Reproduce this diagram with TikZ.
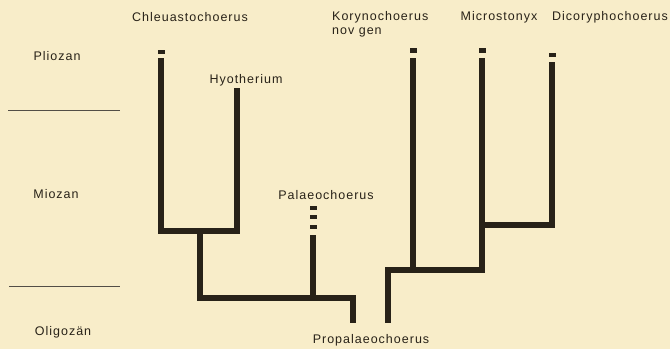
\documentclass[tikz,border=0pt]{standalone}
\usepackage{fontspec}
\setmainfont{Liberation Sans}[LetterSpace=8]
\usetikzlibrary{positioning}
\definecolor{paper}{RGB}{248,237,201}
\definecolor{ink}{RGB}{40,34,24}
\tikzset{
  branch/.style={draw=ink, line width=6.5pt, line cap=butt, line join=miter},
  tipmark/.style={fill=ink},
  taxon/.style={font=\fontsize{12.5}{15}\selectfont, text=ink, inner sep=0pt},
  epoch/.style={taxon},
  rule/.style={draw=ink!80, line width=0.9pt},
}

\begin{document}
\begin{tikzpicture}[x=1pt, y=-1pt]
  \fill[paper] (0,0) rectangle (670,349);
  \useasboundingbox (0,0) rectangle (670,349);
  % epochs
  \node[epoch] (plio) at (57,56) {Pliozan};
  \node[epoch] (mio) at (56,194) {Miozan};
  \node[epoch] (oligo) at (63,332) {Oligozän};
  \coordinate (r1a) at (8,110); \coordinate (r1b) at (120,110);
  \coordinate (r2a) at (9,286); \coordinate (r2b) at (120,286);
  \draw[rule] (r1a) -- (r1b);
  \draw[rule] (r2a) -- (r2b);
  % taxa
  \node[taxon] (chl) at (190,17) {Chleuastochoerus};
  \node[taxon, anchor=west] (kor) at (332,17) {Korynochoerus};
  \node[taxon, below right=5pt and 0pt of kor.south west] (korb) {nov gen};
  \node[taxon] (mic) at (499,17) {Microstonyx};
  \node[taxon] (dic) at (610,17) {Dicoryphochoerus};
  \node[taxon] (hyo) at (246,80) {Hyotherium};
  \node[taxon] (pal) at (326,195) {Palaeochoerus};
  \node[taxon] (pro) at (371,340) {Propalaeochoerus};
  % tips and forks
  \coordinate (tChl) at (161,58);
  \coordinate (tHyo) at (237,88);
  \coordinate (tPal) at (313,235);
  \coordinate (tKor) at (413,58);
  \coordinate (tMic) at (482,58);
  \coordinate (tDic) at (552,62);
  \coordinate (jChlHyo) at (200,231);
  \coordinate (jPal) at (313,298);
  \coordinate (rootL) at (353,323);
  \coordinate (jMicDic) at (482,225);
  \coordinate (jKor) at (413,270);
  \coordinate (rootR) at (388,323);
  % left group
  \draw[branch] (tChl) |- (jChlHyo) -| (tHyo);
  \draw[branch] (jChlHyo) |- (jPal) -| (rootL);
  \draw[branch] (tPal) -- (jPal);
  % right group
  \draw[branch] (tMic) |- (jKor) -| (rootR);
  \draw[branch] (tKor) -- (jKor);
  \draw[branch] (tDic) |- (jMicDic);
  % tip marks
  \fill[tipmark] (157.5,50) rectangle (164.5,54);
  \fill[tipmark] (409.5,48) rectangle (416.5,53);
  \fill[tipmark] (478.5,48) rectangle (485.5,53);
  \fill[tipmark] (548.5,53) rectangle (555.5,57);
  \foreach \y in {206,215,225}
    \fill[tipmark] (309.5,\y) rectangle (316.5,\y+4);
\end{tikzpicture}
\end{document}
